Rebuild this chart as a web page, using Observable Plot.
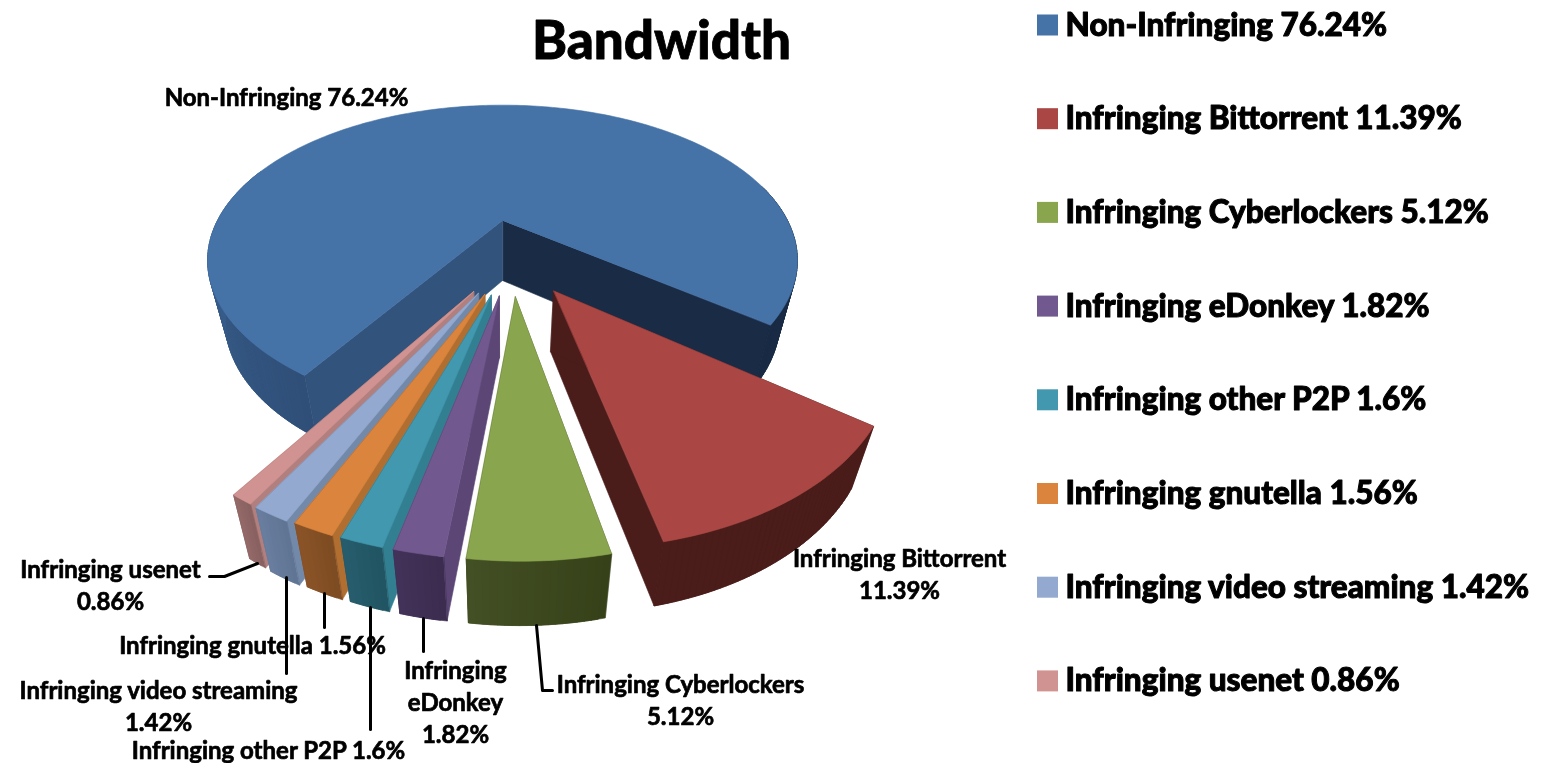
<!DOCTYPE html>
<html>
<head>
<meta charset="utf-8">
<script src="https://cdn.jsdelivr.net/npm/d3@7"></script>
<script src="https://cdn.jsdelivr.net/npm/@observablehq/plot@0.6"></script>
<style>
html,body{margin:0;padding:0;background:#fff;overflow:hidden}
svg text{filter:blur(.5px)}
</style>
</head>
<body>
<div id="chart"></div>
<script>
// Data
const names = ["Non-Infringing","Infringing Bittorrent","Infringing Cyberlockers","Infringing eDonkey","Infringing other P2P","Infringing gnutella","Infringing video streaming","Infringing usenet"];
const shares = [76.24,11.39,5.12,1.82,1.6,1.56,1.42,0.86];
const shareText = ["76.24%","11.39%","5.12%","1.82%","1.6%","1.56%","1.42%","0.86%"];
// Colours
const topColors = ["#4572a7","#aa4643","#89a54e","#71588f","#4198af","#db843d","#93a9cf","#d19392"];
const wallStartColors = ["#32547c","#4a1c1a","#3f4c21","#5b4676","#327f92","#b06f31","#7289aa","#b07f7e"];
const wallEndColors = ["#1a2b45","#4a1c1a","#3f4c21","#3f2e50","#235866","#855025","#65799a","#8e6362"];
const sideStops = [
  ["#2f4f78","#3d6594","#3d6594","#1a2b45","#1a2b45"],
  ["#4a1c1a","#4a1c1a"],
  ["#364119","#434f24"],
  ["#3b2b4e","#43325a"],
  ["#215462","#265d6c"],
  ["#7d4b22","#8a5427"],
  ["#5f7393","#6a7e9f"],
  ["#86605f","#956a69"]
];
// Chart layout
const labelTexts = ["Non-Infringing 76.24%","Infringing Bittorrent\n11.39%","Infringing Cyberlockers\n5.12%","Infringing\neDonkey\n1.82%","Infringing other P2P 1.6%","Infringing gnutella 1.56%","Infringing video streaming\n1.42%","Infringing usenet\n0.86%"];
const labelX = [286,899,680,455,268,252,158,110];
const labelY = [95,572,698,700,748,643,704,583];
const leaderPaths = [
  [[536,625],[542,690],[552,690]],
  [[423,618],[423,651]],
  [[370,607],[370,729]],
  [[324,593],[324,627]],
  [[286,577],[286,673]],
  [[257,563],[224,576],[209,576]]
];
const legendX = 1065, legendTop = 25, legendStep = 93.7;

// Pie geometry (derived from the shares)
const cx = 502, cy = 220, Rx = 285, Ry = 145, persp = 0.257, shrink = 0.94, depth = 60;
const startAngle = 123;
const explodeU = [0,.16,.04,-.01,-.035,-.055,-.075,-.09];
const explodeV = [0,.432,.465,.46,.455,.45,.445,.435];
const rad = d => d * Math.PI / 180;
function project(u, v, low) {
  const s = 1 / (1 - persp * v);
  let x = cx + Rx * u * s, y = cy + Ry * v * s;
  if (low) { x = cx + (x - cx) * shrink; y += depth * Math.pow(s, 0.15); }
  return [x, y];
}
const total = d3.sum(shares);
let acc = startAngle;
const slices = shares.map((p, i) => {
  const a0 = acc, a1 = acc + p / total * 360; acc = a1;
  return {i, a0, a1, ou: explodeU[i], ov: explodeV[i]};
});
const rows = [];
let faceId = 0;
function addFace(pts, color) {
  const id = faceId++;
  pts.forEach(([x, y]) => rows.push({id, x, y, color}));
}
const rim = (s, a, low) => project(s.ou + Math.cos(rad(a)), s.ov + Math.sin(rad(a)), low);
const apex = (s, low) => project(s.ou, s.ov, low);
function addSlice(s) {
  const i = s.i;
  addFace([apex(s,false), rim(s,s.a1,false), rim(s,s.a1,true), apex(s,true)], wallEndColors[i]);
  addFace([apex(s,false), rim(s,s.a0,false), rim(s,s.a0,true), apex(s,true)], wallStartColors[i]);
  const n = Math.max(4, Math.ceil(s.a1 - s.a0));
  const shade = d3.piecewise(d3.interpolateRgb, sideStops[i]);
  const at = k => s.a0 + (s.a1 - s.a0) * Math.min(k, n) / n;
  for (let k = 0; k < n; k++) {
    const mod = ((at(k) % 360) + 360) % 360;
    if (mod > 200 && mod < 345) continue;
    // each strip runs on under the next one, so no seams show
    addFace([rim(s,at(k),false), rim(s,at(k+2),false), rim(s,at(k+2),true), rim(s,at(k),true)], shade((k + .5) / n));
  }
  const topPts = [apex(s,false)];
  for (let k = 0; k <= n; k++) topPts.push(rim(s, at(k), false));
  addFace(topPts, topColors[i]);
}
[0,1,7,6,5,4,3,2].forEach(i => addSlice(slices[i]));

const leaderRows = leaderPaths.flatMap((p, id) => p.map(([x, y]) => ({id, x, y})));
const labelRows = labelTexts.map((text, i) => ({text, x: labelX[i], y: labelY[i]}));
const legendRows = names.map((n, i) => ({text: `${n} ${shareText[i]}`, color: topColors[i], y: legendTop + i * legendStep}));
const font = "Lato, 'Open Sans', sans-serif";

const chart = Plot.plot({
  width: 1545, height: 763,
  marginTop: 0, marginRight: 0, marginBottom: 0, marginLeft: 0,
  x: {domain: [0, 1545], range: [0, 1545], axis: null},
  y: {domain: [0, 763], range: [0, 763], axis: null},
  style: {background: "#fff", fontFamily: font},
  marks: [
    Plot.line(rows, {x: "x", y: "y", z: "id", fill: "color", stroke: "color", strokeWidth: 0.6, curve: "linear-closed"}),
    Plot.line(leaderRows, {x: "x", y: "y", z: "id", stroke: "#000", strokeWidth: 3, curve: "linear"}),
    Plot.text(["Bandwidth"], {x: () => 661, y: () => 42, text: d => d, fontSize: 53, fontWeight: 900, fill: "#000", stroke: "#000", strokeWidth: 0.8, lineAnchor: "middle", fontFamily: font}),
    Plot.text(labelRows, {x: "x", y: "y", text: "text", fontSize: 24, fontWeight: 700, lineHeight: 1.33, fill: "#000", stroke: "#000", strokeWidth: 0.7, lineAnchor: "middle", fontFamily: font}),
    Plot.rect(legendRows, {x1: () => 1037, x2: () => 1058, y1: d => d.y - 10.5, y2: d => d.y + 10.5, fill: "color"}),
    Plot.text(legendRows, {x: () => legendX, y: "y", text: "text", textAnchor: "start", fontSize: 31.5, fontWeight: 900, fill: "#000", stroke: "#000", strokeWidth: 1, lineAnchor: "middle", fontFamily: font})
  ]
});
document.getElementById("chart").appendChild(chart);
</script>
</body>
</html>
